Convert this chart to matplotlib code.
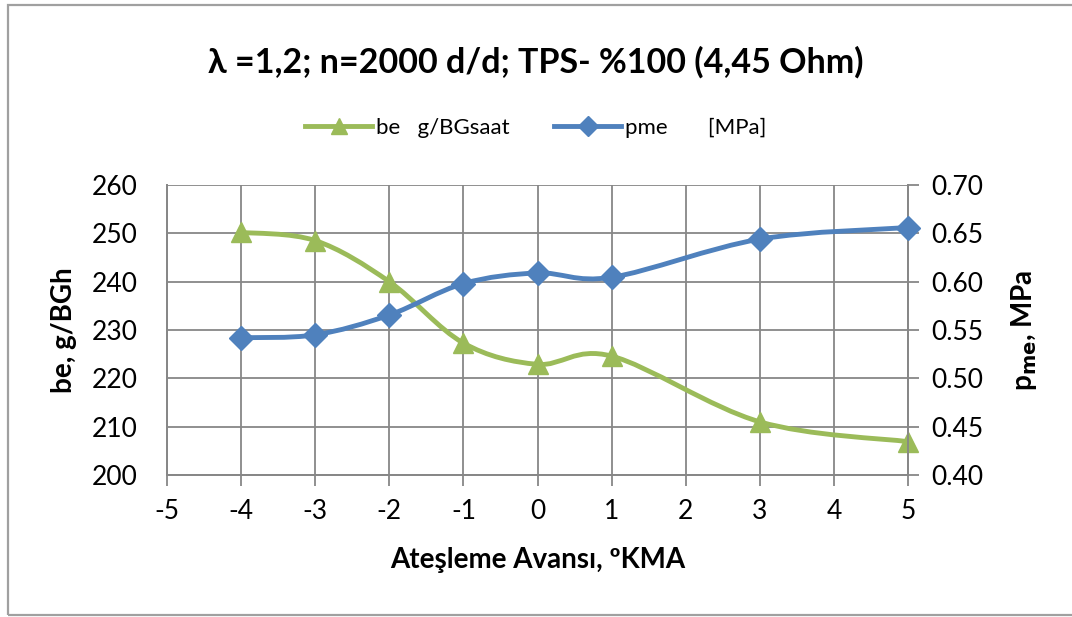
import matplotlib.pyplot as plt
from matplotlib.path import Path
from matplotlib.patches import PathPatch, Rectangle
from matplotlib.lines import Line2D

plt.rcParams['font.family'] = ['Lato', 'DejaVu Sans']
plt.rcParams['axes.unicode_minus'] = False

# Ateşleme avansı (ºKMA)
avans = [-4, -3, -2, -1, 0, 1, 3, 5]
# özgül yakıt tüketimi, g/BGh
be = [250.2, 248.5, 240.0, 227.3, 222.9, 224.6, 211.0, 206.9]
# ortalama efektif basınç, MPa
pme = [0.542, 0.545, 0.5655, 0.598, 0.609, 0.6045, 0.644, 0.656]

GREEN = '#9BBB59'
BLUE = '#4F81BD'
GRID = '#878787'


def smooth_path(xs, ys):
    # Excel tarzı yumuşatılmış çizgi: her aralık için kübik Bezier
    n = len(xs)
    verts = [(xs[0], ys[0])]
    codes = [Path.MOVETO]
    for i in range(n - 1):
        i0 = max(i - 1, 0)
        i3 = min(i + 2, n - 1)
        c1 = (xs[i] + (xs[i + 1] - xs[i0]) / 6, ys[i] + (ys[i + 1] - ys[i0]) / 6)
        c2 = (xs[i + 1] - (xs[i3] - xs[i]) / 6, ys[i + 1] - (ys[i3] - ys[i]) / 6)
        verts += [c1, c2, (xs[i + 1], ys[i + 1])]
        codes += [Path.CURVE4] * 3
    return Path(verts, codes)


fig = plt.figure(figsize=(10.72, 6.17), dpi=100)
fig.patches.append(Rectangle((8 / 1072, 2 / 617), 1.2, 1 - 7 / 617, transform=fig.transFigure,
                             fill=False, edgecolor='#A0A0A0', linewidth=1.6))

ax = fig.add_axes([167 / 1072, 1 - 475 / 617, 741 / 1072, 290 / 617])
ax2 = ax.twinx()

ax.add_patch(PathPatch(smooth_path(avans, be), fill=False, edgecolor=GREEN, linewidth=3.5,
                       capstyle='round', joinstyle='round', zorder=3, clip_on=False))
ax.plot(avans, be, linestyle='none', marker='^', markersize=14, color=GREEN, zorder=4,
        clip_on=False)

ax2.add_patch(PathPatch(smooth_path(avans, pme), fill=False, edgecolor=BLUE, linewidth=3.5,
                        capstyle='round', joinstyle='round', zorder=3, clip_on=False))
ax2.plot(avans, pme, linestyle='none', marker='D', markersize=12, color=BLUE, zorder=4,
         clip_on=False)

ax.set_xlim(-5, 5)
ax.set_ylim(200, 260)
ax2.set_ylim(0.40, 0.70)
ax.set_xticks(range(-5, 6))
ax.set_yticks(range(200, 261, 10))
ax2.set_yticks([0.40, 0.45, 0.50, 0.55, 0.60, 0.65, 0.70])
ax2.set_yticklabels([f'{v:.2f}' for v in ax2.get_yticks()])

ax.grid(True, color=GRID, linewidth=1.3)
ax.set_axisbelow(True)
for a in (ax, ax2):
    a.spines['top'].set_visible(False)
    for side in ('left', 'right', 'bottom'):
        a.spines[side].set_color(GRID)
        a.spines[side].set_linewidth(1.3)

ax.tick_params(axis='y', length=0, labelsize=19, pad=21)
ax.tick_params(axis='x', direction='out', length=8, width=1.3, color=GRID, labelsize=19, pad=9)
ax2.tick_params(axis='y', direction='out', length=8, width=1.3, color=GRID, labelsize=19, pad=9)

ax.set_xlabel('Ateşleme Avansı, ºKMA', fontsize=20, fontweight='bold', labelpad=17)
ax.set_ylabel('be, g/BGh', fontsize=20, fontweight='bold', labelpad=11)
ax2.set_ylabel(r'p$_{\mathbf{me}}$, MPa', fontsize=20, fontweight='bold', labelpad=18)

fig.text(0.5, 1 - 62 / 617, 'λ =1,2; n=2000 d/d; TPS- %100 (4,45 Ohm)', ha='center', va='center',
         fontsize=24.5, fontweight='bold')

handles = [Line2D([], [], color=GREEN, linewidth=3.5, marker='^', markersize=12),
           Line2D([], [], color=BLUE, linewidth=3.5, marker='D', markersize=10)]
fig.legend(handles, ['be   g/BGsaat', 'pme       [MPa]'], loc='center', ncol=2,
           bbox_to_anchor=(0.5, 1 - 128 / 617), frameon=False, fontsize=16,
           handlelength=3.0, columnspacing=2.0, handletextpad=0.2)

fig.savefig('out.png', dpi=100)
